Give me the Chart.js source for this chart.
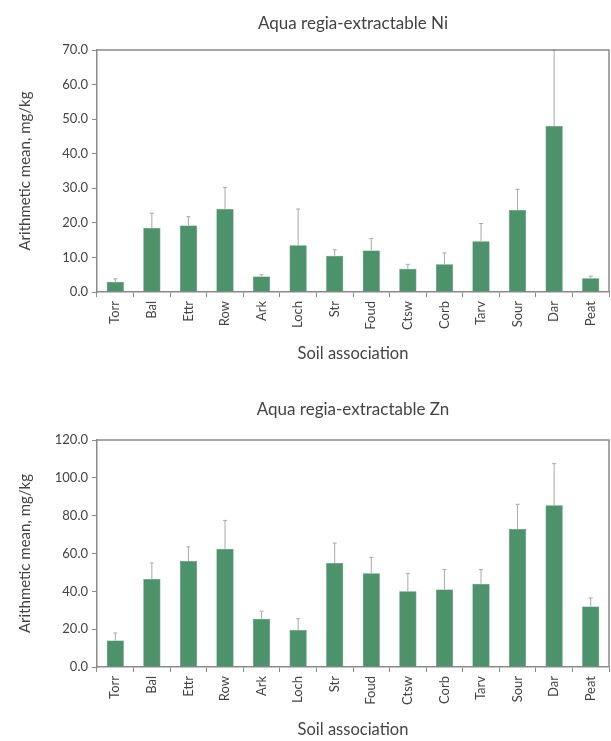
<!DOCTYPE html>
<html>
<head>
<meta charset="utf-8">
<script src="https://cdn.jsdelivr.net/npm/chart.js@4"></script>
<style>
  body { margin: 0; background: #fff; }
  canvas { display: block; }
</style>
</head>
<body>
<canvas id="niChart" width="611" height="372"></canvas>
<canvas id="znChart" width="611" height="369"></canvas>
<script>
// Soil associations (x axis)
const categories = ['Torr', 'Bal', 'Ettr', 'Row', 'Ark', 'Loch', 'Str', 'Foud', 'Ctsw', 'Corb', 'Tarv', 'Sour', 'Dar', 'Peat'];

// Ni, mg/kg: mean and top of error bar
const niMean  = [3.0, 18.5, 19.2, 24.0, 4.5, 13.5, 10.5, 12.0, 6.7, 8.0, 14.7, 23.7, 48.0, 4.0];
const niUpper = [3.8, 22.8, 21.8, 30.2, 5.0, 24.0, 12.2, 15.5, 8.0, 11.3, 19.8, 29.7, 70.0, 4.6];

// Zn, mg/kg: mean and top of error bar
const znMean  = [14.0, 46.5, 56.0, 62.5, 25.5, 19.5, 55.0, 49.5, 40.0, 41.0, 44.0, 73.0, 85.5, 32.0];
const znUpper = [18.0, 55.0, 63.5, 77.5, 29.5, 25.5, 65.5, 58.0, 49.5, 51.5, 51.5, 86.0, 107.5, 36.5];

const FONT = 'Lato, "Open Sans", sans-serif';
const AXIS = '#8a8a8a';
const TEXT = '#444';
const BAR = 'rgb(76,146,106)';

// error bars: thin line up from the bar with a tiny cap
const errorBars = {
  id: 'errorBars',
  afterDatasetsDraw(chart, args, opts) {
    const ctx = chart.ctx;
    const meta = chart.getDatasetMeta(0);
    const y = chart.scales.y;
    ctx.save();
    ctx.strokeStyle = '#a8a8a8';
    ctx.lineWidth = 1;
    meta.data.forEach((bar, i) => {
      const top = Math.max(y.getPixelForValue(opts.upper[i]), chart.chartArea.top);
      ctx.beginPath();
      ctx.moveTo(bar.x, bar.y);
      ctx.lineTo(bar.x, top);
      ctx.moveTo(bar.x - 2, top);
      ctx.lineTo(bar.x + 2, top);
      ctx.stroke();
    });
    ctx.restore();
  }
};

// top and right edges of the plot frame
const frame = {
  id: 'frame',
  afterDraw(chart) {
    const { ctx, chartArea: a } = chart;
    ctx.save();
    ctx.strokeStyle = AXIS;
    ctx.lineWidth = 1.5;
    ctx.beginPath();
    ctx.moveTo(a.left, a.top);
    ctx.lineTo(a.right, a.top);
    ctx.lineTo(a.right, a.bottom);
    ctx.stroke();
    ctx.restore();
  }
};

function makeChart(id, title, means, uppers, maxY, step, titlePad, xHeight, xTitlePad) {
  return new Chart(document.getElementById(id), {
    type: 'bar',
    data: {
      labels: categories,
      datasets: [{
        data: means,
        backgroundColor: BAR,
        borderColor: 'rgb(62,128,90)',
        borderWidth: 0.5,
        barPercentage: 0.47,
        categoryPercentage: 1
      }]
    },
    options: {
      responsive: false,
      animation: false,
      layout: { padding: { left: 0, right: 2, top: 0, bottom: 0 } },
      plugins: {
        legend: { display: false },
        tooltip: { enabled: false },
        title: {
          display: true,
          fullSize: false,
          text: title,
          color: TEXT,
          font: { family: FONT, size: 17, weight: 'normal' },
          padding: titlePad
        },
        errorBars: { upper: uppers }
      },
      scales: {
        x: {
          grid: { drawOnChartArea: false, offset: true, tickLength: 5, color: AXIS },
          border: { color: AXIS, width: 1.5 },
          ticks: {
            color: TEXT, minRotation: 90, maxRotation: 90, padding: 4,
            font: { family: FONT, size: 13 }
          },
          title: {
            display: true, text: 'Soil association', color: TEXT,
            font: { family: FONT, size: 16.5 }, padding: { top: 0, bottom: xTitlePad }
          },
          afterFit: s => { s.height = xHeight; }
        },
        y: {
          min: 0,
          max: maxY,
          grid: { drawOnChartArea: false, tickLength: 5, color: AXIS },
          border: { color: AXIS, width: 1.5 },
          ticks: {
            stepSize: step, color: TEXT, padding: 4,
            font: { family: FONT, size: 13 },
            callback: v => v.toFixed(1)
          },
          title: {
            display: true, text: 'Arithmetic mean, mg/kg', color: TEXT,
            font: { family: FONT, size: 15 }, padding: { top: 16, bottom: 0 }
          },
          afterFit: s => { s.width = 97; }
        }
      }
    },
    plugins: [errorBars, frame]
  });
}

makeChart('niChart', 'Aqua regia-extractable Ni', niMean, niUpper, 70, 10,
  { top: 13, bottom: 16.6 }, 80, 8);
makeChart('znChart', 'Aqua regia-extractable Zn', znMean, znUpper, 120, 20,
  { top: 27, bottom: 20.6 }, 74, 1);
</script>
</body>
</html>
